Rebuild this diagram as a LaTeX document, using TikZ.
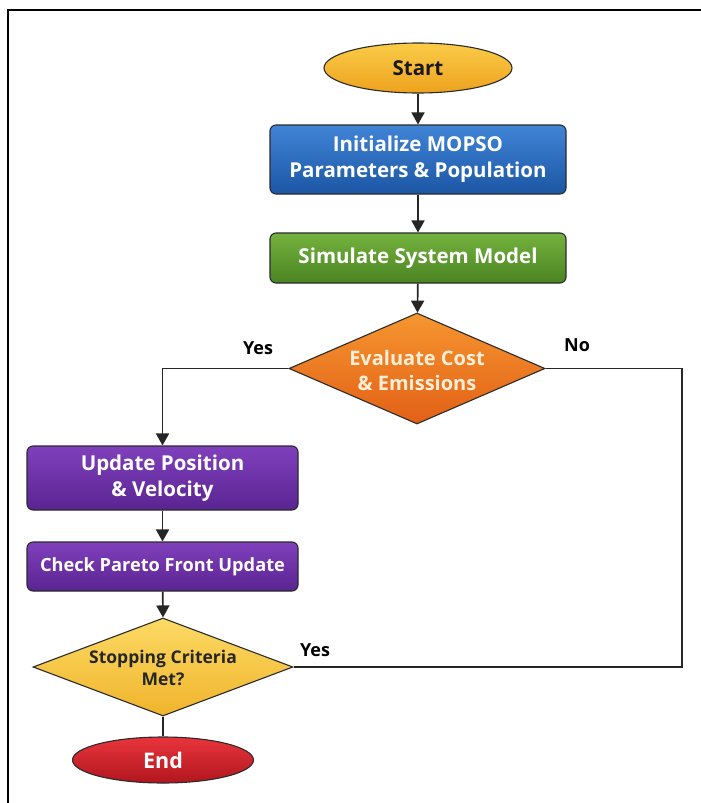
\documentclass[tikz,border=0pt]{standalone}
\usepackage{fontspec}
\setmainfont{Open Sans}
\usetikzlibrary{arrows.meta,shapes.geometric,shadings}
\definecolor{edge}{HTML}{2B2B2B}
\tikzset{
  x=1pt,y=-1pt,
  base/.style={draw=edge,line width=1.1pt,inner sep=0pt,align=center,font=\bfseries\fontsize{20.5}{26}\selectfont},
  boxnode/.style={base,rectangle,rounded corners=6pt,text=white},
  ellnode/.style={base,ellipse},
  dianode/.style={base,diamond,aspect=2},
  lbl/.style={font=\bfseries\fontsize{18}{21}\selectfont,inner sep=0pt},
  conn/.style={draw=black!85,line width=1.7pt},
  arr/.style={conn,-{Triangle[length=12pt,width=13pt]}},
}
\begin{document}
\begin{tikzpicture}
\useasboundingbox (0,0) rectangle (701,803);
\fill[white] (0,0) rectangle (701,803);
\draw[line width=1.5pt] (8,803) -- (8,10) -- (701,10);

\node[ellnode,top color={rgb,255:red,250;green,204;blue,72},bottom color={rgb,255:red,238;green,162;blue,30},text=black!90,
  minimum width=188pt,minimum height=50pt] (start) at (418,68) {Start};
\node[boxnode,top color={rgb,255:red,64;green,132;blue,214},bottom color={rgb,255:red,28;green,86;blue,165},
  minimum width=296pt,minimum height=69pt] (init) at (418,159.5) {Initialize MOPSO\\Parameters \& Population};
\node[boxnode,top color={rgb,255:red,116;green,178;blue,62},bottom color={rgb,255:red,74;green,132;blue,34},
  minimum width=296pt,minimum height=50pt] (sim) at (418,258) {Simulate System Model};
\node[dianode,top color={rgb,255:red,246;green,150;blue,48},bottom color={rgb,255:red,226;green,96;blue,22},
  minimum width=256pt,minimum height=111pt] (eval) at (417,368.5) {};
\node[font=\bfseries\fontsize{20}{25}\selectfont,align=center,text={rgb,255:red,255;green,238;blue,215}] (evaltxt) at ([yshift=-2pt]eval.center) {Evaluate Cost\\\& Emissions};
\node[boxnode,top color={rgb,255:red,128;green,64;blue,188},bottom color={rgb,255:red,90;green,36;blue,146},
  minimum width=271pt,minimum height=64pt] (upd) at (162.5,478) {Update Position\\\& Velocity};
\node[boxnode,top color={rgb,255:red,128;green,64;blue,188},bottom color={rgb,255:red,90;green,36;blue,146},
  minimum width=271pt,minimum height=49pt,font=\bfseries\fontsize{18.2}{22}\selectfont] (chk) at (162.5,566.5) {Check Pareto Front Update};
\node[dianode,top color={rgb,255:red,252;green,218;blue,100},bottom color={rgb,255:red,240;green,180;blue,44},
  minimum width=260pt,minimum height=98pt] (stop) at (163,667) {};
\node[font=\bfseries\fontsize{17.5}{22}\selectfont,align=center,text=black!85] (stoptxt) at ([yshift=-1pt]stop.center) {Stopping Criteria\\Met?};
\node[ellnode,top color={rgb,255:red,232;green,52;blue,60},bottom color={rgb,255:red,178;green,22;blue,30},text=white,
  minimum width=181pt,minimum height=46pt,font=\bfseries\fontsize{21.5}{26}\selectfont] (end) at (163,760) {End};

\coordinate (nocorner) at (682,368.5);

\draw[arr] (start) -- (init);
\draw[arr] (init) -- (sim);
\draw[arr] (sim) -- (eval);
\draw[arr] (eval.west) -| (upd.north);
\draw[conn] (eval.east) -- (nocorner) |- (stop.east);
\draw[arr] (upd) -- (chk);
\draw[arr] (chk) -- (stop.north);
\draw[conn] (stop.south) -- (end.north);

\node[lbl] (yes1) at (258,348) {Yes};
\node[lbl] (no1) at (577,345) {No};
\node[lbl] (yes2) at (315,650) {Yes};
\end{tikzpicture}
\end{document}
